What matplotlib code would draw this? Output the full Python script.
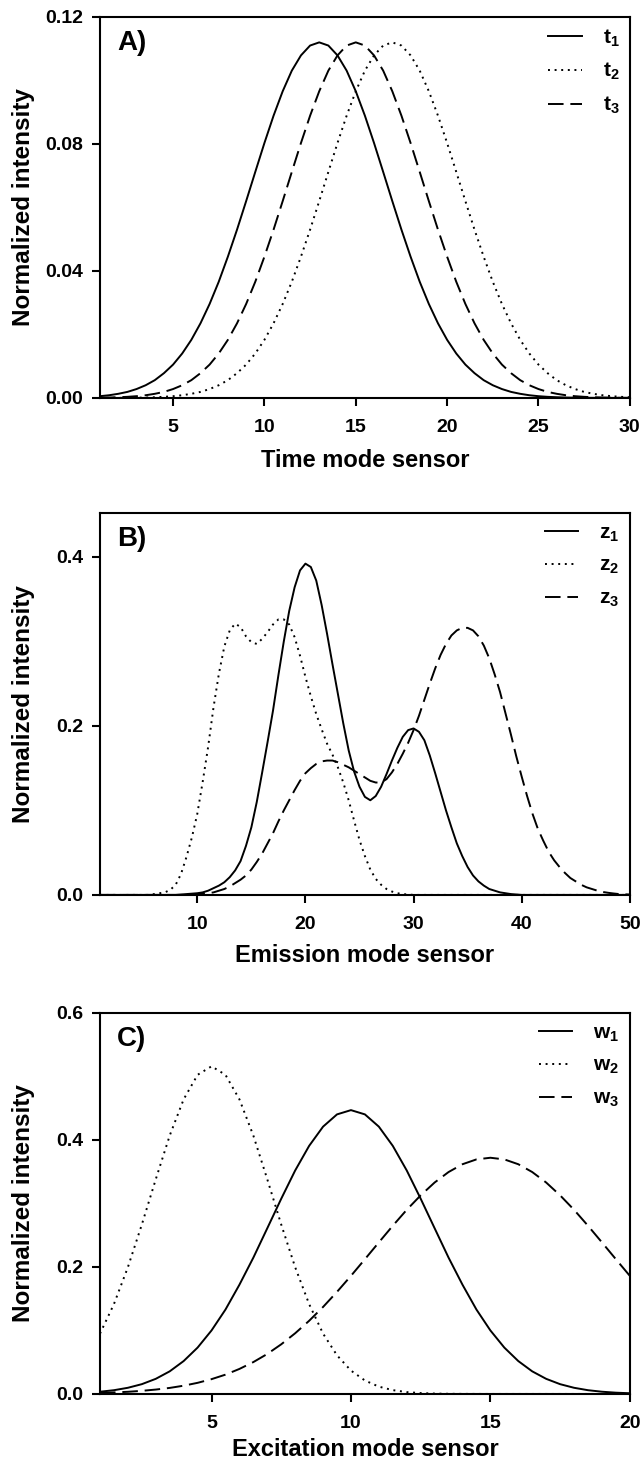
import matplotlib
matplotlib.use('Agg')
import matplotlib.pyplot as plt

plt.rcParams['font.family'] = ['Liberation Sans', 'DejaVu Sans']
plt.rcParams['font.weight'] = 'bold'
plt.rcParams['mathtext.fontset'] = 'custom'
plt.rcParams['mathtext.rm'] = 'Liberation Sans:bold'
plt.rcParams['mathtext.bf'] = 'Liberation Sans:bold'

# Panel A: time mode, sensors 1..30 read every half sensor
time_sensor = [1 + 0.5 * i for i in range(59)]
t1 = [0.00055, 0.00085, 0.0013, 0.0019, 0.0028, 0.0040, 0.0056, 0.0078, 0.0105, 0.0140,
      0.0183, 0.0235, 0.0296, 0.0366, 0.0445, 0.0530, 0.0620, 0.0712, 0.0803, 0.0889,
      0.0966, 0.1031, 0.1079, 0.1110, 0.1120, 0.1110, 0.1079, 0.1031, 0.0966, 0.0889,
      0.0803, 0.0712, 0.0620, 0.0530, 0.0445, 0.0366, 0.0296, 0.0235, 0.0183, 0.0140,
      0.0105, 0.0078, 0.0056, 0.0040, 0.0028, 0.0019, 0.0013, 0.00085, 0.00055, 0.00035,
      0.00022, 0.00013, 0.00008, 0.00005, 0.00003, 0.00002, 0.00001, 0.000005, 0.0]
t2 = [0.00001, 0.00002, 0.00003, 0.00005, 0.00008, 0.00013, 0.00022, 0.00035, 0.00055, 0.00085,
      0.0013, 0.0019, 0.0028, 0.0040, 0.0056, 0.0078, 0.0105, 0.0140, 0.0183, 0.0235,
      0.0296, 0.0366, 0.0445, 0.0530, 0.0620, 0.0712, 0.0803, 0.0889, 0.0966, 0.1031,
      0.1079, 0.1110, 0.1120, 0.1110, 0.1079, 0.1031, 0.0966, 0.0889, 0.0803, 0.0712,
      0.0620, 0.0530, 0.0445, 0.0366, 0.0296, 0.0235, 0.0183, 0.0140, 0.0105, 0.0078,
      0.0056, 0.0040, 0.0028, 0.0019, 0.0013, 0.00085, 0.00055, 0.00035, 0.00022]
t3 = [0.00008, 0.00013, 0.00022, 0.00035, 0.00055, 0.00085, 0.0013, 0.0019, 0.0028, 0.0040,
      0.0056, 0.0078, 0.0105, 0.0140, 0.0183, 0.0235, 0.0296, 0.0366, 0.0445, 0.0530,
      0.0620, 0.0712, 0.0803, 0.0889, 0.0966, 0.1031, 0.1079, 0.1110, 0.1120, 0.1110,
      0.1079, 0.1031, 0.0966, 0.0889, 0.0803, 0.0712, 0.0620, 0.0530, 0.0445, 0.0366,
      0.0296, 0.0235, 0.0183, 0.0140, 0.0105, 0.0078, 0.0056, 0.0040, 0.0028, 0.0019,
      0.0013, 0.00085, 0.00055, 0.00035, 0.00022, 0.00013, 0.00008, 0.00005, 0.00003]

# Panel B: emission mode, sensors 1..50 read every half sensor
emission_sensor = [1 + 0.5 * i for i in range(99)]
z1 = [0, 0, 0, 0, 0, 0, 0, 0, 0, 0,
      0, 0, 0, 0, 0, 0.0005, 0.001, 0.0015, 0.002, 0.003,
      0.005, 0.008, 0.011, 0.015, 0.021, 0.029, 0.040, 0.058, 0.080, 0.110,
      0.145, 0.181, 0.218, 0.260, 0.300, 0.336, 0.364, 0.384, 0.392, 0.388,
      0.372, 0.343, 0.309, 0.273, 0.238, 0.203, 0.171, 0.146, 0.128, 0.116,
      0.112, 0.117, 0.128, 0.143, 0.159, 0.174, 0.187, 0.195, 0.197, 0.193,
      0.183, 0.165, 0.144, 0.122, 0.100, 0.080, 0.061, 0.046, 0.033, 0.023,
      0.016, 0.011, 0.007, 0.005, 0.003, 0.002, 0.001, 0.0005, 0, 0,
      0, 0, 0, 0, 0, 0, 0, 0, 0, 0,
      0, 0, 0, 0, 0, 0, 0, 0, 0]
z2 = [0, 0, 0, 0, 0, 0, 0, 0, 0, 0,
      0.001, 0.002, 0.003, 0.006, 0.012, 0.025, 0.045, 0.068, 0.096, 0.134,
      0.175, 0.222, 0.262, 0.294, 0.313, 0.321, 0.317, 0.306, 0.299, 0.297,
      0.303, 0.311, 0.320, 0.326, 0.326, 0.320, 0.305, 0.283, 0.258, 0.235,
      0.214, 0.196, 0.179, 0.166, 0.151, 0.133, 0.112, 0.088, 0.065, 0.046,
      0.030, 0.019, 0.012, 0.007, 0.004, 0.002, 0.001, 0.0005, 0, 0,
      0, 0, 0, 0, 0, 0, 0, 0, 0, 0,
      0, 0, 0, 0, 0, 0, 0, 0, 0, 0,
      0, 0, 0, 0, 0, 0, 0, 0, 0, 0,
      0, 0, 0, 0, 0, 0, 0, 0, 0]
z3 = [0, 0, 0, 0, 0, 0, 0, 0, 0, 0,
      0, 0, 0, 0, 0, 0, 0, 0, 0.001, 0.0015,
      0.002, 0.003, 0.005, 0.007, 0.010, 0.014, 0.018, 0.023, 0.030, 0.039,
      0.049, 0.061, 0.073, 0.087, 0.100, 0.112, 0.124, 0.135, 0.144, 0.150,
      0.155, 0.158, 0.159, 0.159, 0.157, 0.154, 0.151, 0.147, 0.143, 0.139,
      0.135, 0.133, 0.133, 0.137, 0.145, 0.155, 0.167, 0.180, 0.195, 0.212,
      0.231, 0.250, 0.268, 0.284, 0.297, 0.307, 0.313, 0.316, 0.316, 0.313,
      0.306, 0.295, 0.280, 0.261, 0.240, 0.215, 0.190, 0.164, 0.140, 0.117,
      0.096, 0.078, 0.064, 0.051, 0.041, 0.033, 0.026, 0.020, 0.016, 0.012,
      0.009, 0.007, 0.005, 0.0035, 0.0025, 0.0017, 0.001, 0.0007, 0.0005]

# Panel C: excitation mode, sensors 1..20 read every half sensor
excitation_sensor = [1 + 0.5 * i for i in range(39)]
w1 = [0.0035, 0.0059, 0.0097, 0.0154, 0.0238, 0.0356, 0.0518, 0.0730, 0.100, 0.1329,
      0.172, 0.2147, 0.261, 0.3075, 0.352, 0.3907, 0.421, 0.4403, 0.447, 0.4403,
      0.421, 0.3907, 0.352, 0.3075, 0.261, 0.2147, 0.172, 0.1329, 0.100, 0.0730,
      0.0518, 0.0356, 0.0238, 0.0154, 0.0097, 0.0059, 0.0035, 0.0020, 0.0011]
w2 = [0.095, 0.1415, 0.1995, 0.2667, 0.338, 0.4069, 0.464, 0.5026, 0.516, 0.5026,
      0.464, 0.4069, 0.338, 0.2667, 0.1995, 0.1415, 0.095, 0.0608, 0.0368, 0.0212,
      0.0115, 0.0060, 0.0029, 0.0014, 0.0006, 0.00025, 0.0001, 0.00004, 0, 0,
      0, 0, 0, 0, 0, 0, 0, 0, 0]
w3 = [0.0016, 0.0024, 0.0034, 0.0049, 0.0069, 0.0095, 0.0130, 0.0175, 0.0233, 0.0304,
      0.0394, 0.0502, 0.0630, 0.0782, 0.0956, 0.1152, 0.137, 0.1608, 0.186, 0.2122,
      0.2387, 0.2649, 0.290, 0.3128, 0.333, 0.3495, 0.3618, 0.3694, 0.372, 0.3694,
      0.3618, 0.3495, 0.333, 0.3128, 0.290, 0.2649, 0.2387, 0.2122, 0.186]

panels = [
    dict(x=time_sensor, ys=[t1, t2, t3], name='t', tag='A)',
         xlabel='Time mode sensor', xlim=(1, 30), xticks=[5, 10, 15, 20, 25, 30],
         ylim=(0, 0.12), yticks=[0.0, 0.04, 0.08, 0.12], yfmt='{:.2f}',
         rect=[0.1555, 0.728, 0.824, 0.2604], xlab_y=-0.163),
    dict(x=emission_sensor, ys=[z1, z2, z3], name='z', tag='B)',
         xlabel='Emission mode sensor', xlim=(1, 50), xticks=[10, 20, 30, 40, 50],
         ylim=(0, 0.452), yticks=[0.0, 0.2, 0.4], yfmt='{:.1f}',
         rect=[0.1555, 0.3883, 0.824, 0.2611], xlab_y=-0.158),
    dict(x=excitation_sensor, ys=[w1, w2, w3], name='w', tag='C)',
         xlabel='Excitation mode sensor', xlim=(1, 20), xticks=[5, 10, 15, 20],
         ylim=(0, 0.6), yticks=[0.0, 0.2, 0.4, 0.6], yfmt='{:.1f}',
         rect=[0.1555, 0.0472, 0.824, 0.2604], xlab_y=-0.146),
]

styles = ['-', (0, (1, 2.4)), (0, (8, 3.5))]

fig = plt.figure(figsize=(6.43, 14.63), dpi=100)

for p in panels:
    ax = fig.add_axes(p['rect'])
    for i, (y, style) in enumerate(zip(p['ys'], styles)):
        ax.plot(p['x'], y, color='black', linestyle=style, linewidth=1.4,
                label=r'$\mathbf{%s_%d}$' % (p['name'], i + 1))

    ax.set_xlim(*p['xlim'])
    ax.set_ylim(*p['ylim'])
    ax.set_xticks(p['xticks'])
    ax.set_yticks(p['yticks'])
    ax.set_yticklabels([p['yfmt'].format(v) for v in p['yticks']])

    for side in ['left', 'right', 'top', 'bottom']:
        ax.spines[side].set_linewidth(1.5)
    ax.tick_params(axis='both', direction='out', length=6, width=1.5,
                   labelsize=14, top=False, right=False)
    ax.tick_params(axis='x', pad=9)
    ax.tick_params(axis='y', pad=6)
    for lab in ax.get_xticklabels() + ax.get_yticklabels():
        lab.set_fontweight('bold')

    ax.set_xlabel(p['xlabel'], fontsize=17, fontweight='bold')
    ax.set_ylabel('Normalized intensity', fontsize=17.5, fontweight='bold')
    ax.xaxis.set_label_coords(0.5, p['xlab_y'])
    ax.xaxis.label.set_va('center')
    ax.yaxis.set_label_coords(-0.145, 0.5)
    ax.yaxis.label.set_va('center')

    ax.text(0.032, 0.932, p['tag'], transform=ax.transAxes, fontsize=20,
            fontweight='bold', ha='left', va='center')

    ax.legend(loc='upper right', frameon=False, fontsize=15, handlelength=1.6,
              handletextpad=1.0, labelspacing=0.6, borderaxespad=0.3,
              borderpad=0.2)

fig.savefig('out.png', dpi=100)
